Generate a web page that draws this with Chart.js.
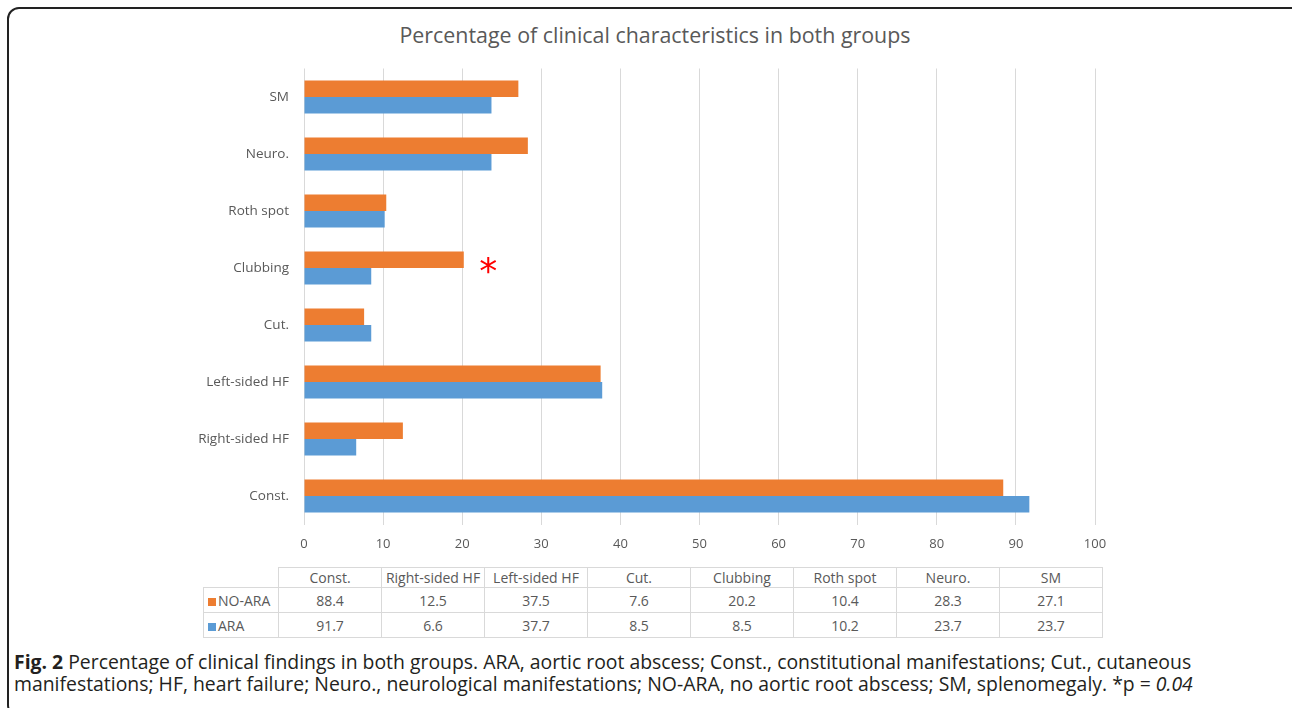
<!DOCTYPE html>
<html lang="en">
<head>
<meta charset="UTF-8">
<title>Percentage of clinical characteristics in both groups</title>
<script src="https://cdn.jsdelivr.net/npm/chart.js"></script>
<style>
    body {
        margin: 0;
        width: 1292px;
        height: 708px;
        overflow: hidden;
        background: #fff;
        font-family: 'Open Sans', sans-serif;
        position: relative;
    }

    .frame {
        position: absolute;
        left: 7px;
        top: 7px;
        width: 1300px;
        height: 710px;
        border: 2px solid #222;
        border-radius: 12px;
        box-sizing: border-box;
    }

    .title {
        position: absolute;
        left: 0;
        width: 1310px;
        top: 20px;
        text-align: center;
        font-size: 21.4px;
        line-height: 30px;
        color: #595959;
    }

    .chart-box {
        position: absolute;
        left: 0;
        top: 0;
        width: 1292px;
        height: 560px;
    }

    table {
        position: absolute;
        left: 203px;
        top: 567px;
        border-collapse: collapse;
        color: #595959;
        font-size: 14px;
        table-layout: fixed;
    }

    td {
        border: 1px solid #d9d9d9;
        text-align: center;
        padding: 0;
        white-space: nowrap;
    }

    tr.head td { height: 19px; }
    tr.row td { height: 24px; }
    td.key { text-align: left; padding-left: 4px; }
    td.blank { border-top: none; border-left: none; }

    .swatch {
        display: inline-block;
        width: 8px;
        height: 8px;
        margin-right: 2px;
    }

    .caption {
        position: absolute;
        left: 14px;
        top: 651px;
        font-size: 19.4px;
        line-height: 22px;
        color: #231f20;
        white-space: nowrap;
    }
</style>
</head>
<body>
<div class="frame"></div>
<div class="title">Percentage of clinical characteristics in both groups</div>
<div class="chart-box"><canvas id="chart"></canvas></div>
<table id="dataTable"></table>
<div class="caption"><b>Fig. 2</b> Percentage of clinical findings in both groups. ARA, aortic root abscess; Const., constitutional manifestations; Cut., cutaneous<br>manifestations; HF, heart failure; Neuro., neurological manifestations; NO-ARA, no aortic root abscess; SM, splenomegaly. *p = <i>0.04</i></div>

<script>
    const categories = ['Const.', 'Right-sided HF', 'Left-sided HF', 'Cut.', 'Clubbing', 'Roth spot', 'Neuro.', 'SM'];
    const noAra = [88.4, 12.5, 37.5, 7.6, 20.2, 10.4, 28.3, 27.1];
    const ara = [91.7, 6.6, 37.7, 8.5, 8.5, 10.2, 23.7, 23.7];
    const xTicks = [0, 10, 20, 30, 40, 50, 60, 70, 80, 90, 100];

    const ORANGE = '#ED7D31';
    const BLUE = '#5B9BD5';
    const GREY = '#595959';

    // data table under the chart
    const buildTable = () => {
        const table = document.getElementById('dataTable');
        let html = '<colgroup><col style="width:75px">';
        categories.forEach(() => { html += '<col style="width:103px">'; });
        html += '</colgroup><tr class="head"><td class="blank"></td>';
        categories.forEach(c => { html += '<td>' + c + '</td>'; });
        html += '</tr>';
        const rows = [['NO-ARA', ORANGE, noAra], ['ARA', BLUE, ara]];
        rows.forEach(([name, color, vals]) => {
            html += '<tr class="row"><td class="key"><span class="swatch" style="background:' + color + '"></span>' + name + '</td>';
            vals.forEach(v => { html += '<td>' + v.toFixed(1) + '</td>'; });
            html += '</tr>';
        });
        table.innerHTML = html;
    };

    // red asterisk next to the Clubbing bars
    const asteriskPlugin = {
        id: 'asterisk',
        afterDatasetsDraw(chart) {
            const ctx = chart.ctx;
            const x = chart.scales.x.getPixelForValue(23.3);
            const y = chart.scales.y.getPixelForValue(categories.indexOf('Clubbing'));
            ctx.save();
            ctx.fillStyle = '#FF0000';
            ctx.font = '36px "DejaVu Sans"';
            ctx.textAlign = 'center';
            ctx.textBaseline = 'alphabetic';
            ctx.fillText('*', x, y + 15);
            ctx.restore();
        }
    };

    const createChart = () => {
        const ctx = document.getElementById('chart').getContext('2d');
        new Chart(ctx, {
            type: 'bar',
            data: {
                labels: categories,
                datasets: [{
                    label: 'NO-ARA',
                    data: noAra,
                    backgroundColor: ORANGE,
                    barPercentage: 1,
                    categoryPercentage: 0.58
                }, {
                    label: 'ARA',
                    data: ara,
                    backgroundColor: BLUE,
                    barPercentage: 1,
                    categoryPercentage: 0.58
                }]
            },
            options: {
                indexAxis: 'y',
                responsive: true,
                maintainAspectRatio: false,
                animation: false,
                layout: {
                    padding: { left: 0, right: 197, top: 68.5, bottom: 0 }
                },
                plugins: {
                    legend: { display: false },
                    tooltip: { enabled: false },
                    title: { display: false }
                },
                scales: {
                    x: {
                        min: 0,
                        max: 100,
                        afterBuildTicks: scale => {
                            scale.ticks = xTicks.map(v => ({ value: v }));
                        },
                        afterFit: scale => { scale.height = 35.5; },
                        grid: { color: '#d9d9d9', drawTicks: false },
                        border: { display: false },
                        ticks: {
                            color: GREY,
                            padding: 12,
                            font: { family: 'Open Sans', size: 13 }
                        }
                    },
                    y: {
                        reverse: true,
                        afterFit: scale => { scale.width = 304; },
                        grid: { display: false, drawTicks: false },
                        border: { display: false },
                        ticks: {
                            color: GREY,
                            padding: 15,
                            font: { family: 'Open Sans', size: 13.5 }
                        }
                    }
                }
            },
            plugins: [asteriskPlugin]
        });
    };

    window.onload = () => {
        buildTable();
        createChart();
    };
</script>
</body>
</html>
